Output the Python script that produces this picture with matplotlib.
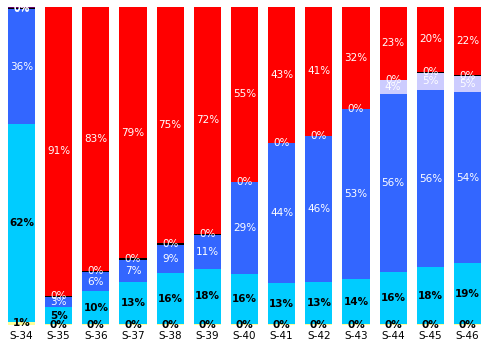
import numpy as np
import matplotlib
matplotlib.use("Agg")
import matplotlib.pyplot as plt

categories = ["S-34", "S-35", "S-36", "S-37", "S-38", "S-39", "S-40",
              "S-41", "S-42", "S-43", "S-44", "S-45", "S-46"]
yellow = [1.0, 0.2, 0.2, 0.2, 0.2, 0.2, 0.2, 0.2, 0.2, 0.2, 0.2, 0.2, 0.2]
cyan = [62.3, 5.4, 10.4, 13.3, 16.2, 17.6, 16.0, 13.0, 13.4, 14.3, 16.4, 18.0, 19.3]
blue = [36.2, 3.3, 6.0, 7.0, 9.0, 10.6, 28.8, 44.0, 45.8, 53.2, 55.6, 55.6, 54.0]
lavender = [0, 0, 0, 0, 0, 0, 0, 0, 0, 0, 4.4, 5.4, 5.0]
black = [0.3, 0.3, 0.5, 0.4, 0.5, 0.4, 0.1, 0.2, 0.2, 0.2, 0.2, 0.3, 0.2]
red = [0.0, 90.8, 82.8, 78.8, 74.8, 71.5, 55.0, 42.8, 40.6, 32.0, 22.8, 20.4, 21.6]
purple = [0.45, 0, 0, 0, 0, 0, 0, 0, 0, 0, 0, 0, 0]

series = [
    (yellow, "#FFFF99", "black", "bold", "all"),
    (cyan, "#00CCFF", "black", "bold", "all"),
    (blue, "#3366FF", "white", "normal", "all"),
    (lavender, "#CCCCFF", "white", "normal", "nonzero"),
    (black, "#000000", "white", "normal", "all"),
    (red, "#FF0000", "white", "normal", "all"),
    (purple, "#660066", "white", "normal", "nonzero"),
]

W, H = 486, 348
fig = plt.figure(figsize=(W / 100, H / 100), dpi=100)
ax = fig.add_axes([2.9 / W, (H - 325) / H, 483.2 / W, 318 / H])

x = np.arange(len(categories))
totals = np.sum([np.array(s[0]) for s in series], axis=0)
bottom = np.zeros(len(categories))
for vals, col, tcol, tw, mode in series:
    v = np.array(vals, dtype=float)
    h = v / totals * 100
    ax.bar(x, h, bottom=bottom, width=0.73, color=col, linewidth=0)
    for i in range(len(x)):
        if mode == "nonzero" and v[i] <= 0:
            continue
        ax.text(x[i], bottom[i] + h[i] / 2, f"{int(round(v[i]))}%",
                ha="center", va="center", color=tcol, fontsize=7.5,
                fontweight=tw)
    bottom += h

ax.set_xlim(-0.5, len(categories) - 0.5)
ax.set_ylim(0, 100)
for s in ax.spines.values():
    s.set_visible(False)
ax.set_yticks([])
ax.set_xticks(x)
ax.set_xticklabels(categories, fontsize=7.5)
ax.tick_params(axis="x", length=0, pad=4)

fig.savefig("out.png", dpi=100)
